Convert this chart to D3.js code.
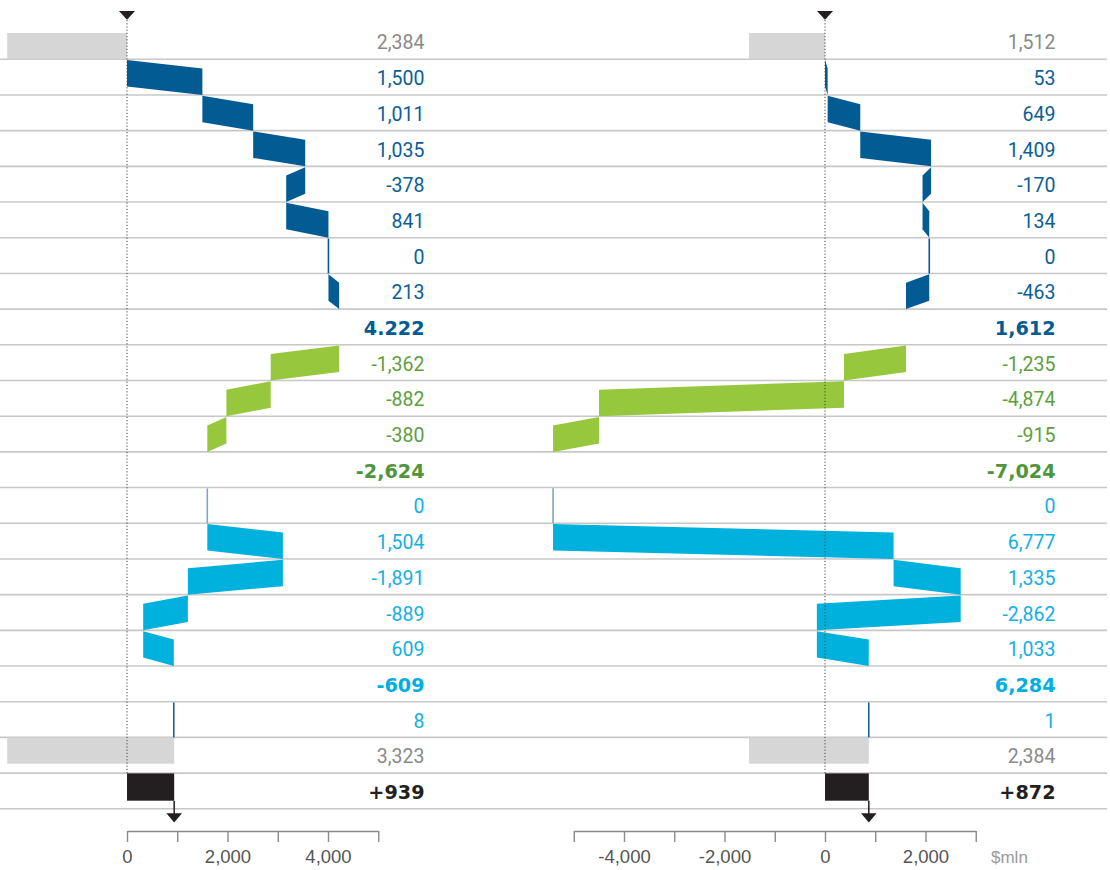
<!DOCTYPE html>
<html>
<head>
<meta charset="utf-8">
<script src="https://cdn.jsdelivr.net/npm/d3@7"></script>
<style>
  html, body { margin: 0; padding: 0; background: #fff; }
  svg { display: block; }
</style>
</head>
<body>
<svg id="chart" width="1110" height="870"></svg>
<script>
// ---- data ----
const rowKinds = ["start","blue","blue","blue","blue","blue","blue","blue","blueTotal",
  "green","green","green","greenTotal",
  "light","light","light","light","light","lightTotal",
  "other","end","net"];

const leftValues = [2384, 1500, 1011, 1035, -378, 841, 0, 213, 4222,
  -1362, -882, -380, -2624,
  0, 1504, -1891, -889, 609, -609,
  8, 3323, 939];
const leftLabels = ["2,384","1,500","1,011","1,035","-378","841","0","213","4.222",
  "-1,362","-882","-380","-2,624",
  "0","1,504","-1,891","-889","609","-609",
  "8","3,323","+939"];

const rightValues = [1512, 53, 649, 1409, -170, 134, 0, -463, 1612,
  -1235, -4874, -915, -7024,
  0, 6777, 1335, -2862, 1033, 6284,
  1, 2384, 872];
const rightLabels = ["1,512","53","649","1,409","-170","134","0","-463","1,612",
  "-1,235","-4,874","-915","-7,024",
  "0","6,777","1,335","-2,862","1,033","6,284",
  "1","2,384","+872"];

const leftTicks = [0, 1000, 2000, 3000, 4000, 5000];
const leftTickLabels = ["0", "", "2,000", "", "4,000", ""];
const rightTicks = [-5000, -4000, -3000, -2000, -1000, 0, 1000, 2000, 3000];
const rightTickLabels = ["", "-4,000", "", "-2,000", "", "0", "", "2,000", ""];
const unitLabel = "$mln";

// ---- styles ----
const barColor = { blue: "#035b94", green: "#97c73d", light: "#00b1de", other: "#1d5f8f" };
const zeroColor = { blue: "#035b94", green: "#97c73d", light: "#7ca8c6", other: "#1d5f8f" };
const textColor = {
  start: "#8a8a8a", blue: "#0a5e97", blueTotal: "#035b94",
  green: "#5e9e3e", greenTotal: "#4f963a",
  light: "#14b0e2", lightTotal: "#00aee2",
  other: "#14b0e2", end: "#8a8a8a", net: "#231f20"
};

const svg = d3.select("#chart");
const rowTop0 = 23.6, rowH = 35.69, slant = 8.4;
const rowTop = i => rowTop0 + rowH * i;
const nRows = rowKinds.length;
const isBold = k => k.endsWith("Total") || k === "net";

// row separator lines
svg.append("g").selectAll("line").data(d3.range(nRows)).join("line")
  .attr("x1", 0).attr("x2", 1107)
  .attr("y1", i => rowTop(i + 1)).attr("y2", i => rowTop(i + 1))
  .attr("stroke", "#c8c8c8").attr("stroke-width", 1.6);

function panel(values, labels, scale, labelX, ticks, tickLabels, showUnit) {
  const g = svg.append("g");
  const x0 = scale(0);
  let cum = 0;
  const bars = g.append("g");
  values.forEach((v, i) => {
    const kind = rowKinds[i];
    const t = rowTop(i), b = rowTop(i + 1);
    if (kind === "start") {
      bars.append("rect")
        .attr("x", scale(-v)).attr("width", scale(0) - scale(-v))
        .attr("y", b - 26.3).attr("height", 26.3)
        .attr("fill", "#d6d6d6");
    } else if (kind === "end") {
      bars.append("rect")
        .attr("x", scale(cum - v)).attr("width", scale(cum) - scale(cum - v))
        .attr("y", t + 0.3).attr("height", 26)
        .attr("fill", "#d6d6d6");
    } else if (kind === "net") {
      bars.append("rect")
        .attr("x", scale(0)).attr("width", scale(v) - scale(0))
        .attr("y", t + 0.3).attr("height", 27.3)
        .attr("fill", "#231f20");
    } else if (kind.endsWith("Total")) {
      // subtotal row: text only
    } else {
      const xs = scale(cum), xe = scale(cum + v);
      if (Math.abs(xe - xs) < 1) {
        bars.append("line")
          .attr("x1", xs).attr("x2", xs)
          .attr("y1", t + 0.8).attr("y2", b)
          .attr("stroke", zeroColor[kind]).attr("stroke-width", 1.6);
      } else {
        const ty = t + 0.8;
        const pts = [[xs, ty], [xe, ty + slant], [xe, b], [xs, b - slant]];
        bars.append("path")
          .attr("d", d3.line()(pts) + "Z")
          .attr("fill", barColor[kind]);
      }
      cum += v;
    }
  });

  // dotted zero line
  g.append("line")
    .attr("x1", x0).attr("x2", x0)
    .attr("y1", 20).attr("y2", rowTop(nRows - 1) + 2)
    .attr("stroke", "#444").attr("stroke-width", 1)
    .attr("stroke-dasharray", "1.2,2");

  // top arrow
  g.append("path")
    .attr("d", `M${x0 - 8},11 L${x0 + 8},11 L${x0},19.8 Z`)
    .attr("fill", "#231f20");

  // bottom arrow at final value
  const netVal = values[nRows - 1];
  const xf = scale(netVal);
  const netBottom = rowTop(nRows - 1) + 27.6;
  g.append("line")
    .attr("x1", xf).attr("x2", xf)
    .attr("y1", netBottom).attr("y2", 814)
    .attr("stroke", "#231f20").attr("stroke-width", 1.5);
  g.append("path")
    .attr("d", `M${xf - 7.8},813.3 L${xf + 7.8},813.3 L${xf},822.5 Z`)
    .attr("fill", "#231f20");

  // value labels
  g.append("g").selectAll("text").data(labels).join("text")
    .attr("x", labelX)
    .attr("y", (d, i) => rowTop(i) + rowH / 2 + 1)
    .attr("dy", "0.36em")
    .attr("text-anchor", "end")
    .attr("font-family", (d, i) => isBold(rowKinds[i]) ? "DejaVu Sans" : "Roboto")
    .attr("font-weight", (d, i) => isBold(rowKinds[i]) ? "bold" : "normal")
    .attr("font-size", (d, i) => isBold(rowKinds[i]) ? "19.2px" : "19.5px")
    .attr("fill", (d, i) => textColor[rowKinds[i]])
    .text(d => d);

  // axis
  const axis = d3.axisBottom(scale)
    .tickValues(ticks)
    .tickSize(11)
    .tickSizeOuter(0)
    .tickPadding(8)
    .tickFormat((d, i) => tickLabels[i]);
  const ag = g.append("g").attr("transform", "translate(0,831)").call(axis);
  ag.select(".domain").attr("stroke", "#8a8a8a").attr("stroke-width", 1.4);
  ag.selectAll(".tick line").attr("stroke", "#8a8a8a").attr("stroke-width", 1.4);
  ag.selectAll(".tick text")
    .attr("font-family", "'Liberation Sans Narrow', 'Liberation Sans', sans-serif")
    .attr("font-size", "18.5px")
    .attr("fill", "#555");
  if (showUnit) {
    g.append("text")
      .attr("x", 991).attr("y", 863)
      .attr("font-family", "'Liberation Sans Narrow', 'Liberation Sans', sans-serif")
      .attr("font-size", "17px")
      .attr("fill", "#9a9a9a")
      .text(unitLabel);
  }
}

const pxPerK = 50.25;
const leftScale = d3.scaleLinear().domain([0, 5000]).range([127, 127 + 5 * pxPerK]);
const rightScale = d3.scaleLinear().domain([-5000, 3000]).range([825 - 5 * pxPerK, 825 + 3 * pxPerK]);

panel(leftValues, leftLabels, leftScale, 424.5, leftTicks, leftTickLabels, false);
panel(rightValues, rightLabels, rightScale, 1055.5, rightTicks, rightTickLabels, true);
</script>
</body>
</html>
